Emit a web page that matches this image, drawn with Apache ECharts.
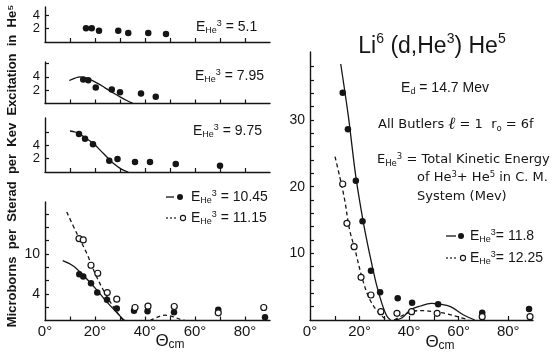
<!DOCTYPE html>
<html><head><meta charset="utf-8">
<script src="https://cdn.jsdelivr.net/npm/echarts@6/dist/echarts.min.js"></script>
<style>html,body{margin:0;padding:0;background:#fff}#c{width:558px;height:352px}</style>
</head><body><div id="c"></div>
<script>
// ---- data (theta in degrees c.m., cross-section values) ----
const xTickLabels = [0, 20, 40, 60, 80];
// panel E = 5.1
const th51 = [16.4, 18.7, 21.6, 29.3, 33.3, 41.3, 48.4];
const v51  = [2.05, 2.05, 1.7, 1.7, 1.35, 1.35, 1.2];
// panel E = 7.95
const th795 = [15.3, 17.3, 20.3, 26.7, 30.0, 38.4, 44.3];
const v795  = [3.6, 3.5, 2.4, 2.1, 1.7, 1.5, 1.0];
const fitTh795 = [9.7, 12, 14, 17, 20.7, 24, 27.3, 30, 32.7, 35];
const fitV795  = [3.45, 3.8, 4.0, 3.75, 3.1, 2.35, 1.6, 1.0, 0.45, 0.05];
// panel E = 9.75
const th975 = [13.6, 16, 19.2, 25.7, 29, 36, 42, 52.3, 70];
const v975  = [5.7, 5.0, 4.15, 1.7, 1.95, 1.5, 1.5, 1.2, 0.95];
const fitTh975 = [10, 12, 14, 16, 19.3, 23.3, 27.3, 30.7, 33.3];
const fitV975  = [6.15, 6.0, 5.7, 5.15, 4.3, 2.8, 1.3, 0.4, 0.0];
// panel E = 10.45 (solid) and 11.15 (open)
const th1045 = [13.7, 15.3, 18.4, 20.9, 24.8, 28.7, 35.6, 41, 51.6, 69.3, 88];
const v1045  = [6.95, 6.6, 5.6, 4.2, 3.1, 1.8, 1.45, 1.4, 1.25, 1.6, 0.5];
const th1115 = [13.6, 15.3, 18.4, 21.1, 24.9, 28.7, 36, 41.2, 51.7, 69.3, 87.5];
const v1115  = [12.3, 12.1, 8.3, 7.1, 4.2, 3.2, 1.95, 2.15, 2.1, 1.15, 1.95];
const fitTh1045 = [7.1, 11.3, 15.3, 20.7, 24.7, 28.7, 31.7];
const fitV1045  = [9.0, 8.2, 6.8, 4.6, 2.8, 1.2, 0.0];
const fitTh1115a = [8.7, 12.7, 16.7, 20, 24, 27.3, 30.7, 32];
const fitV1115a  = [16.3, 13.1, 10.1, 7.1, 4.1, 2.1, 0.3, 0.0];
const fitTh1115b = [42, 45, 48, 51, 54, 56];
const fitV1115b  = [0.0, 0.5, 0.8, 0.6, 0.2, 0.0];
// right panel E = 11.8 (solid) and 12.25 (open)
const th118 = [13.2, 15.3, 18.5, 21.2, 24.6, 28.3, 35.4, 41.2, 51.7, 69.5, 88.4];
const v118  = [34.1, 28.6, 20.9, 14.8, 7.4, 4.15, 3.25, 2.6, 2.35, 1.1, 1.65];
const th1225 = [13.2, 14.9, 17.8, 20.6, 24.6, 28.6, 35.1, 41.0, 51.3, 69.5, 88.8];
const v1225  = [20.4, 14.5, 11.0, 6.4, 3.75, 1.25, 1.0, 1.25, 1.0, 0.5, 0.5];
const fitTh118a = [12.4, 15.5, 18.5, 21.6, 24.3, 26.7, 29, 31, 32.5];
const fitV118a  = [38.4, 30.5, 21.5, 14.5, 9.5, 5.5, 2.5, 0.6, 0.0];
const fitTh118b = [34, 37, 40.5, 44.5, 49, 52, 56.7, 62, 66.5];
const fitV118b  = [0.0, 0.3, 1.5, 2.1, 2.5, 2.4, 2.0, 0.75, 0.0];
const fitTh1225a = [10.1, 12, 14, 16, 18.2, 20.9, 23.6, 26.3, 29, 31];
const fitV1225a  = [24.5, 21.5, 18, 13.5, 10.5, 6.5, 3.5, 1.75, 0.6, 0.0];
const fitTh1225b = [34, 38, 42, 46, 50, 55, 60, 64];
const fitV1225b  = [0.0, 0.8, 1.35, 1.4, 1.25, 0.95, 0.45, 0.0];

const pair = (a, b) => a.map((t, i) => [t, b[i]]);
const INK = '#151515';
const FONT = 'Liberation Sans';
const WIDE = 'DejaVu Sans';

const grids = [
  {left: 45, width: 225, top: 7, height: 35},
  {left: 45, width: 225, top: 62, height: 41.5},
  {left: 45, width: 225, top: 118, height: 54},
  {left: 45, width: 225, top: 202, height: 118.5},
  {left: 310, width: 223, top: 52, height: 268}
];
const yMax = [5.25, 6.22, 8.1, 17.8, 40.2];
const yTicks = [[2, 4], [2, 4, 6], [2, 4, 6], [2, 4, 6, 8, 10, 12, 14, 16],
  [2,4,6,8,10,12,14,16,18,20,22,24,26,28,30,32,34,36,38]];
const yLabels = [[2, 4], [2, 4], [2, 4], [4, 10], [10, 20, 30]];
const showX = [false, false, false, true, true];

const xAxes = grids.map((g, i) => ({
  type: 'value', gridIndex: i, min: 0, max: 90,
  axisLine: {lineStyle: {color: INK, width: 1.4}},
  axisTick: {inside: true, length: 4, lineStyle: {color: INK, width: 1.2},
    customValues: [10, 20, 30, 40, 50, 60, 70, 80]},
  axisLabel: {show: showX[i], customValues: xTickLabels, formatter: '{value}°',
    color: INK, fontFamily: FONT, fontSize: 15, margin: 4, hideOverlap: false},
  splitLine: {show: false}
}));
const yAxes = grids.map((g, i) => ({
  type: 'value', gridIndex: i, min: 0, max: yMax[i],
  axisLine: {show: true, lineStyle: {color: INK, width: 1.4}},
  axisTick: {show: true, inside: true, length: 4, lineStyle: {color: INK, width: 1.2},
    customValues: yTicks[i]},
  axisLabel: {customValues: yLabels[i], color: INK, fontFamily: FONT,
    fontSize: i < 3 ? 13 : 14, lineHeight: 11, margin: 5, hideOverlap: false,
    showMinLabel: true, showMaxLabel: true},
  splitLine: {show: false}
}));

function dots(i, th, v, open) {
  return {type: 'scatter', xAxisIndex: i, yAxisIndex: i, data: pair(th, v),
    symbol: 'circle', symbolSize: open ? 6 : 6.5,
    itemStyle: open ? {color: '#fff', borderColor: INK, borderWidth: 1.2, opacity: 1}
                    : {color: INK, opacity: 1},
    z: 5, silent: true};
}
function fit(i, th, v, dashed) {
  return {type: 'line', xAxisIndex: i, yAxisIndex: i, data: pair(th, v), smooth: 0.35,
    showSymbol: false, silent: true,
    lineStyle: {color: INK, width: 1.3, type: dashed ? [4, 3] : 'solid'}, z: 3};
}

const series = [
  dots(0, th51, v51),
  fit(1, fitTh795, fitV795), dots(1, th795, v795),
  fit(2, fitTh975, fitV975), dots(2, th975, v975),
  fit(3, fitTh1045, fitV1045), fit(3, fitTh1115a, fitV1115a, true), fit(3, fitTh1115b, fitV1115b, true),
  dots(3, th1045, v1045), dots(3, th1115, v1115, true),
  fit(4, fitTh118a, fitV118a), fit(4, fitTh118b, fitV118b),
  fit(4, fitTh1225a, fitV1225a, true), fit(4, fitTh1225b, fitV1225b, true),
  dots(4, th118, v118), dots(4, th1225, v1225, true)
];

const rich = {
  n: {fontSize: 14, fontFamily: FONT, color: INK, lineHeight: 16, verticalAlign: 'middle'},
  s: {fontSize: 9, fontFamily: FONT, color: INK, lineHeight: 8, verticalAlign: 'bottom'},
  p: {fontSize: 9, fontFamily: FONT, color: INK, lineHeight: 11, verticalAlign: 'top'},
  t: {fontSize: 13, fontFamily: WIDE, color: INK, lineHeight: 16, verticalAlign: 'middle'},
  ts: {fontSize: 8.5, fontFamily: WIDE, color: INK, lineHeight: 7, verticalAlign: 'bottom'},
  tp: {fontSize: 8.5, fontFamily: WIDE, color: INK, lineHeight: 10, verticalAlign: 'top'},
  big: {fontSize: 23, fontFamily: FONT, color: INK, lineHeight: 30, verticalAlign: 'middle'},
  bp: {fontSize: 14, fontFamily: FONT, color: INK, lineHeight: 14, verticalAlign: 'top'},
  th: {fontSize: 17, fontFamily: FONT, color: INK, lineHeight: 20, verticalAlign: 'middle'},
  el: {fontSize: 17, fontFamily: 'DejaVu Serif', fontStyle: 'italic', color: INK, lineHeight: 16, verticalAlign: 'middle'},
  cm: {fontSize: 12, fontFamily: FONT, color: INK, lineHeight: 10, verticalAlign: 'bottom'}
};
function eLabel(val) { return '{n|E}{s|He}{p|3}{n| = ' + val + '}'; }
function txt(x, y, text, align) {
  return {type: 'text', x: x, y: y,
    style: {text: text, rich: rich, align: align || 'left', verticalAlign: 'middle', fill: INK}};
}

const graphic = [
  txt(196, 27, eLabel('5.1')),
  txt(195, 76, eLabel('7.95')),
  txt(193, 131, eLabel('9.75')),
  // left legend
  {type: 'line', shape: {x1: 166, y1: 197, x2: 174, y2: 197}, style: {stroke: INK, lineWidth: 1.3}},
  {type: 'circle', shape: {cx: 180, cy: 197, r: 3}, style: {fill: INK}},
  txt(191, 197, eLabel('10.45')),
  {type: 'line', shape: {x1: 166, y1: 218, x2: 178, y2: 218}, style: {stroke: INK, lineWidth: 1.2, lineDash: [2, 2]}},
  {type: 'circle', shape: {cx: 183, cy: 218, r: 2.6}, style: {fill: '#fff', stroke: INK, lineWidth: 1.1}},
  txt(191, 218, eLabel('11.15')),
  // right legend
  {type: 'line', shape: {x1: 446, y1: 236, x2: 456, y2: 236}, style: {stroke: INK, lineWidth: 1.3}},
  {type: 'circle', shape: {cx: 461, cy: 236, r: 3}, style: {fill: INK}},
  txt(470, 236, '{n|E}{s|He}{p|3}{n|= 11.8}'),
  {type: 'line', shape: {x1: 446, y1: 258, x2: 458, y2: 258}, style: {stroke: INK, lineWidth: 1.2, lineDash: [2, 2]}},
  {type: 'circle', shape: {cx: 463, cy: 258, r: 2.6}, style: {fill: '#fff', stroke: INK, lineWidth: 1.1}},
  txt(470, 258, '{n|E}{s|He}{p|3}{n|= 12.25}'),
  // right annotations
  txt(432, 47, '{big|Li}{bp|6}{big| (d,He}{bp|3}{big|) He}{bp|5}', 'center'),
  txt(445, 88, '{n|E}{s|d}{n| = 14.7 Mev}', 'center'),
  txt(378, 125, '{t|All Butlers }{el|ℓ}{t| = 1  r}{ts|o}{t| = 6f}'),
  txt(377, 160, '{t|E}{ts|He}{tp|3}{t| = Total Kinetic Energy}'),
  txt(417, 178, '{t|of He}{tp|3}{t|+ He}{tp|5}{t| in C. M.}'),
  txt(417, 197, '{t|System (Mev)}'),
  // axis titles
  txt(170, 341, '{th|Θ}{cm|cm}', 'center'),
  txt(440, 342, '{th|Θ}{cm|cm}', 'center'),
  {type: 'text', x: 12, y: 166, rotation: Math.PI / 2,
    style: {text: 'Microborns  per  Sterad  per  Kev  Excitation  in  He⁵', fontFamily: FONT,
      fontWeight: 'bold', fontSize: 13, fill: INK, align: 'center', verticalAlign: 'middle'}}
];

const chart = echarts.init(document.getElementById('c'), null, {renderer: 'canvas'});
chart.setOption({
  animation: false,
  backgroundColor: '#fff',
  grid: grids,
  xAxis: xAxes,
  yAxis: yAxes,
  series: series,
  graphic: graphic
});
</script></body></html>
